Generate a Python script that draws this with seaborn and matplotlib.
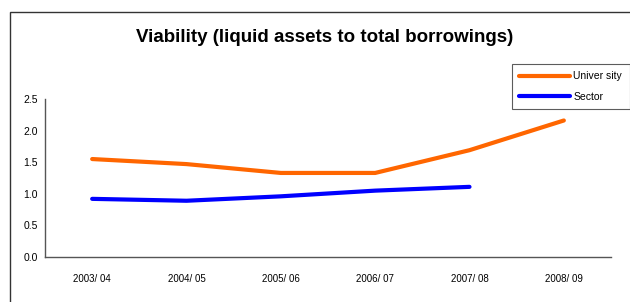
import numpy as np
import pandas as pd
import seaborn as sns
import matplotlib.pyplot as plt
from matplotlib.patches import Rectangle

years = ['2003/ 04', '2004/ 05', '2005/ 06', '2006/ 07', '2007/ 08', '2008/ 09']
university = [1.55, 1.47, 1.33, 1.33, 1.69, 2.16]
sector = [0.92, 0.89, 0.96, 1.05, 1.11, np.nan]

df = pd.DataFrame({
    'pos': list(range(len(years))) * 2,
    'value': university + sector,
    'series': ['University'] * len(years) + ['Sector'] * len(years),
})

sns.set_style('white')
plt.rcParams['font.family'] = ['Liberation Sans', 'DejaVu Sans']
plt.rcParams['text.color'] = 'black'
plt.rcParams['xtick.color'] = 'black'
plt.rcParams['ytick.color'] = 'black'

fig = plt.figure(figsize=(6.3, 3.02), dpi=100)
ax = fig.add_axes([45 / 630, 1 - 257 / 302, 566 / 630, 158 / 302])

# outer chart frame (runs off the right/bottom edge like the original)
fig.patches.append(Rectangle((10 / 630, -0.2), 1.2, 0.2 + (302 - 12) / 302,
                             transform=fig.transFigure, fill=False,
                             edgecolor='#333333', linewidth=1.0))

sns.lineplot(data=df, x='pos', y='value', hue='series',
             palette={'University': '#FF6600', 'Sector': '#0000FF'},
             linewidth=3, ax=ax, legend=False)

ax.set_xlim(-0.5, len(years) - 0.5)
ax.set_ylim(0, 2.5)
ax.set_yticks(np.arange(0, 2.51, 0.5))
ax.set_yticklabels([f'{v:.1f}' for v in np.arange(0, 2.51, 0.5)], fontsize=7.5)
ax.set_xticks(range(len(years)))
ax.set_xticklabels(years, fontsize=7)
ax.set_xticks(np.arange(-0.5, len(years)), minor=True)
ax.tick_params(axis='x', which='major', length=0, pad=12)
ax.tick_params(axis='x', which='minor', length=3, direction='out', color='#555555')
ax.tick_params(axis='y', length=3, direction='out', color='#555555', pad=2)
ax.set_xlabel('')
ax.set_ylabel('')
for side in ['top', 'right']:
    ax.spines[side].set_visible(False)
for side in ['left', 'bottom']:
    ax.spines[side].set_color('#555555')
    ax.spines[side].set_linewidth(1.0)

fig.text(325 / 630, 1 - 37 / 302, 'Viability (liquid assets to total borrowings)',
         ha='center', va='center', fontsize=13.5, fontweight='bold', color='black')

handles = [plt.Line2D([], [], color='#FF6600', linewidth=3),
           plt.Line2D([], [], color='#0000FF', linewidth=3)]
leg = fig.legend(handles, ['Univer sity', 'Sector'], loc='upper left',
                 bbox_to_anchor=(512 / 630, 1 - 64 / 302), fontsize=7.5,
                 frameon=True, fancybox=False, handlelength=4.9,
                 handletextpad=0.3, borderpad=0.7, labelspacing=1.0,
                 borderaxespad=0)
leg.get_frame().set_edgecolor('#333333')
leg.get_frame().set_linewidth(0.8)

fig.savefig('out.png', dpi=100)
